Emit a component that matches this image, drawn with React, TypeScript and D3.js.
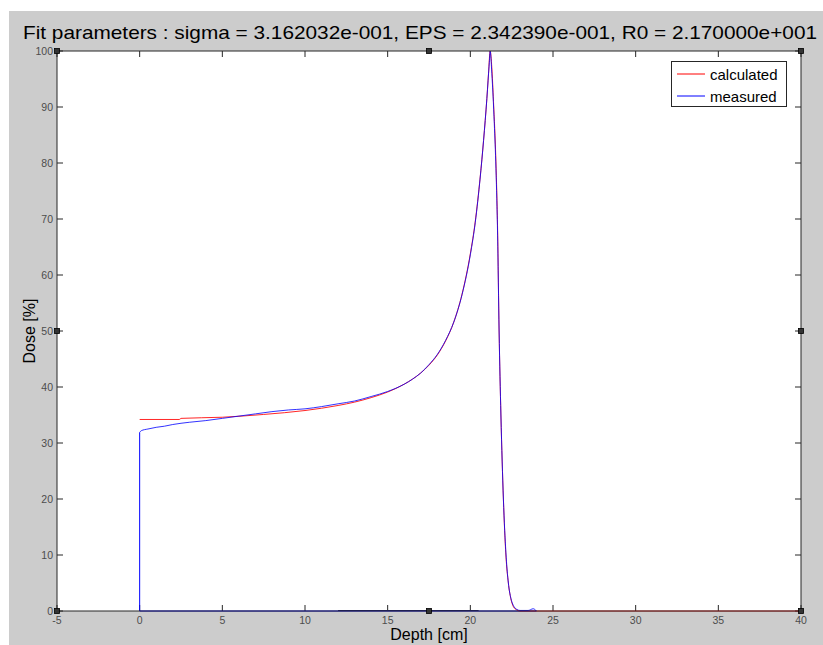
import React from "react";
import * as d3 from "d3";

const titleText =
  "Fit parameters : sigma = 3.162032e-001, EPS = 2.342390e-001, R0 = 2.170000e+001";
const xLabel = "Depth [cm]";
const yLabel = "Dose [%]";
const legendNames = ["calculated", "measured"];

const xTicks = [-5, 0, 5, 10, 15, 20, 25, 30, 35, 40];
const yTicks = [0, 10, 20, 30, 40, 50, 60, 70, 80, 90, 100];

// calculated (red)
const calcDepth = [
  0, 2.4, 2.5, 5, 7.5, 10, 12, 13, 14, 15, 16, 16.5, 17, 17.5, 18, 18.5, 19, 19.5,
  20, 20.3, 20.58, 20.8, 21.0, 21.1, 21.2, 21.3, 21.4, 21.55, 21.65, 21.74, 21.85,
  22.0, 22.15, 22.3, 22.45, 22.6, 22.8, 23.0, 40,
];
const calcDose = [
  34.2, 34.2, 34.4, 34.6, 35.1, 35.8, 36.7, 37.3, 38.1, 39.1, 40.5, 41.4, 42.5, 43.9,
  45.7, 48.2, 51.6, 56.6, 63.8, 69.6, 77, 84, 91.5, 96, 100, 97, 91, 80, 68, 50, 35,
  20, 10, 5, 2.2, 0.8, 0.2, 0, 0,
];

// measured (blue)
const measDepth = [
  24, 0, 0, 0.1, 0.5, 1, 1.5, 2, 3, 4, 5, 6, 7, 8, 9, 10, 11, 12, 13, 14, 15, 16,
  16.5, 17, 17.5, 18, 18.5, 19, 19.5, 20, 20.3, 20.6, 20.8, 21.0, 21.15, 21.2, 21.3,
  21.45, 21.55, 21.65, 21.74, 21.85, 22.0, 22.15, 22.3, 22.45, 22.6, 22.8, 23.0,
  23.5, 23.8, 24.0,
];
const measDose = [
  0, 0, 31.9, 32.2, 32.5, 32.8, 33.0, 33.3, 33.7, 34.0, 34.4, 34.8, 35.2, 35.6, 35.9,
  36.1, 36.5, 37.0, 37.5, 38.3, 39.2, 40.5, 41.4, 42.5, 44.0, 45.8, 48.3, 51.6,
  56.5, 63.6, 69.4, 77.5, 84, 91.5, 98, 100, 96, 87, 79, 67, 50, 35, 20, 10.5, 5,
  2.3, 1, 0.3, 0.1, 0.1, 0.4, 0,
];

const W = 823;
const H = 645;
const L = 57;
const R = 801;
const T = 51;
const B = 611;

export default function App() {
  const x = d3.scaleLinear().domain([-5, 40]).range([L, R]);
  const y = d3.scaleLinear().domain([0, 100]).range([B, T]);

  const calcPts: [number, number][] = calcDepth.map((d, i) => [d, calcDose[i]]);
  const measPts: [number, number][] = measDepth.map((d, i) => [d, measDose[i]]);

  const lineLin = d3
    .line<[number, number]>()
    .x((d) => x(d[0]))
    .y((d) => y(d[1]));
  const lineSmooth = d3
    .line<[number, number]>()
    .x((d) => x(d[0]))
    .y((d) => y(d[1]))
    .curve(d3.curveMonotoneX);

  const measCurve = measPts.slice(2);
  const measStart = measPts.slice(0, 3);

  const font = "'Liberation Sans', Arial, Helvetica, sans-serif";
  const axisColor = "#262626";
  const tickColor = "#4d4d4d";
  const tl = 6;

  const handles: [number, number][] = [
    [L, T],
    [(L + R) / 2, T],
    [R, T],
    [L, (T + B) / 2],
    [R, (T + B) / 2],
    [L, B],
    [(L + R) / 2, B],
    [R, B],
  ];

  return (
    <svg
      width={W}
      height={H}
      style={{ position: "absolute", left: 0, top: 0, display: "block" }}
      fontFamily={font}
    >
      <rect x={0} y={0} width={W} height={H} fill="#ffffff" />
      <rect x={9} y={11} width={W - 9} height={H - 11} fill="#cccccc" />
      <rect x={L} y={T} width={R - L} height={B - T} fill="#ffffff" />

      {/* ticks */}
      {xTicks.map((t) => (
        <g key={"xt" + t}>
          <line x1={x(t)} x2={x(t)} y1={B} y2={B - tl} stroke={axisColor} strokeWidth={1} />
          <line x1={x(t)} x2={x(t)} y1={T} y2={T + tl} stroke={axisColor} strokeWidth={1} />
          <text
            x={x(t)}
            y={624}
            fontSize={10.5}
            textAnchor="middle"
            fill={tickColor}
          >
            {t}
          </text>
        </g>
      ))}
      {yTicks.map((t) => (
        <g key={"yt" + t}>
          <line x1={L} x2={L + tl} y1={y(t)} y2={y(t)} stroke={axisColor} strokeWidth={1} />
          <line x1={R} x2={R - tl} y1={y(t)} y2={y(t)} stroke={axisColor} strokeWidth={1} />
          <text
            x={L - 4}
            y={y(t) + 4}
            fontSize={10.5}
            textAnchor="end"
            fill={tickColor}
          >
            {t}
          </text>
        </g>
      ))}

      {/* data */}
      <path d={lineLin(measStart) || ""} fill="none" stroke="#0000ff" strokeWidth={1} />
      <line
        x1={x(12)}
        x2={x(20.5)}
        y1={B - 0.5}
        y2={B - 0.5}
        stroke="#1a1a80"
        strokeWidth={1.2}
      />
      <path d={lineSmooth(calcPts) || ""} fill="none" stroke="#ff0000" strokeWidth={1} opacity={0.85} />
      <path d={lineSmooth(measCurve) || ""} fill="none" stroke="#0000ff" strokeWidth={1} opacity={0.8} />

      {/* axes box */}
      <rect
        x={L}
        y={T}
        width={R - L}
        height={B - T}
        fill="none"
        stroke={axisColor}
        strokeWidth={1}
      />

      {/* handles */}
      {handles.map(([hx, hy], i) => (
        <rect
          key={"h" + i}
          x={hx - 2.5}
          y={hy - 2.5}
          width={5}
          height={5}
          fill="#333333"
          stroke="#000"
          strokeWidth={0.8}
        />
      ))}

      {/* legend */}
      <rect x={671.5} y={61.5} width={115} height={45} fill="#ffffff" stroke={axisColor} strokeWidth={1} />
      <line x1={677} x2={705} y1={74} y2={74} stroke="#ff0000" strokeWidth={1} />
      <text x={710} y={79.5} fontSize={15} fill="#000">
        {legendNames[0]}
      </text>
      <line x1={677} x2={705} y1={96} y2={96} stroke="#0000ff" strokeWidth={1} />
      <text x={710} y={101.5} fontSize={15} fill="#000">
        {legendNames[1]}
      </text>

      {/* labels */}
      <text
        x={23}
        y={39}
        fontSize={18.5}
        textLength={794}
        lengthAdjust="spacingAndGlyphs"
        fill="#000"
      >
        {titleText}
      </text>
      <text x={429} y={640} fontSize={16} textAnchor="middle" fill="#000">
        {xLabel}
      </text>
      <text
        transform={`translate(35, ${(T + B) / 2}) rotate(-90)`}
        fontSize={16}
        textAnchor="middle"
        fill="#000"
      >
        {yLabel}
      </text>
    </svg>
  );
}
